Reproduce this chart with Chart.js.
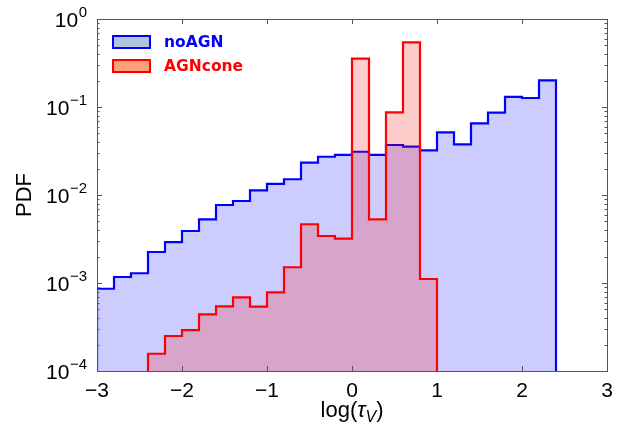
<!DOCTYPE html>
<html><head><meta charset="utf-8">
<script src="https://cdn.jsdelivr.net/npm/chart.js@4/dist/chart.umd.min.js"></script>
<style>html,body{margin:0;padding:0;background:#fff;}#wrap{width:638px;height:427px;}</style>
</head><body><div id="wrap"><canvas id="c" width="638" height="427"></canvas></div>
<script>
// ---- data ----
const noAGNEdges = [-3.0,-2.8,-2.6,-2.4,-2.2,-2.0,-1.8,-1.6,-1.4,-1.2,-1.0,-0.8,-0.6,-0.4,-0.2,0.0,0.2,0.4,0.6,0.8,1.0,1.2,1.4,1.6,1.8,2.0,2.2,2.4];
const noAGN = [8.6e-4,1.17e-3,1.29e-3,2.25e-3,2.92e-3,3.90e-3,5.29e-3,7.70e-3,8.55e-3,1.13e-2,1.34e-2,1.51e-2,2.33e-2,2.72e-2,2.85e-2,3.10e-2,2.85e-2,3.70e-2,3.54e-2,3.22e-2,5.16e-2,3.77e-2,6.53e-2,8.62e-2,0.130,0.1265,0.201];
const agnConeEdges = [-2.4,-2.2,-2.0,-1.8,-1.6,-1.4,-1.2,-1.0,-0.8,-0.6,-0.4,-0.2,0.0,0.2,0.4,0.6,0.8,1.0];
const agnCone = [1.57e-4,2.50e-4,2.92e-4,4.41e-4,5.43e-4,6.87e-4,5.38e-4,7.84e-4,1.51e-3,4.65e-3,3.42e-3,3.19e-3,0.354,5.29e-3,0.087,0.543,1.11e-3];
const seriesNames = ['noAGN','AGNcone'];
const xTicks = [-3,-2,-1,0,1,2,3];
const xTickLabels = ['\u22123','\u22122','\u22121','0','1','2','3'];
const yTicks = [1e-4,1e-3,1e-2,1e-1,1];
const yTickBase = '10';
const yTickExponents = ['\u22124','\u22123','\u22122','\u22121','0'];
const yTitle = 'PDF';

// ---- helpers ----
const FLOOR = 1e-6;
function stepPoints(edges, vals){
  const pts=[{x:edges[0],y:FLOOR}];
  vals.forEach((v,i)=>pts.push({x:edges[i],y:v}));
  pts.push({x:edges[edges.length-1],y:vals[vals.length-1]});
  pts.push({x:edges[edges.length-1],y:FLOOR});
  return pts;
}

const framePlugin = {
  id:'frame',
  afterDatasetsDraw(chart){
    const {ctx, chartArea:a, scales:{x,y}} = chart;
    ctx.save();
    ctx.strokeStyle='#555'; ctx.lineWidth=1;
    ctx.beginPath();
    xTicks.forEach(v=>{
      const px=Math.round(x.getPixelForValue(v))+0.5;
      ctx.moveTo(px,a.bottom); ctx.lineTo(px,a.bottom-5);
      ctx.moveTo(px,a.top); ctx.lineTo(px,a.top+5);
    });
    for(let e=-4;e<=0;e++){
      for(let k=1;k<=9;k++){
        const v=k*Math.pow(10,e); if(v>1.0001) break;
        const py=Math.round(y.getPixelForValue(v))+0.5;
        const len=k===1?5:2.5;
        ctx.moveTo(a.left,py); ctx.lineTo(a.left+len,py);
        ctx.moveTo(a.right,py); ctx.lineTo(a.right-len,py);
      }
    }
    ctx.stroke();
    ctx.strokeRect(Math.round(a.left)+0.5, Math.round(a.top)+0.5, Math.round(a.right-a.left), Math.round(a.bottom-a.top));
    ctx.restore();
  },
  afterDraw(chart){
    const {ctx, chartArea:a, scales:{x,y}} = chart;
    ctx.save();
    ctx.fillStyle='#000'; ctx.textBaseline='alphabetic'; ctx.textAlign='left';
    // y tick labels: 10 with superscript exponent
    const fb='21px "Liberation Sans"', fsup='15px "Liberation Sans"';
    yTicks.forEach((v,i)=>{
      const py=y.getPixelForValue(v);
      ctx.font=fsup; const ws=ctx.measureText(yTickExponents[i]).width;
      ctx.font=fb; const wb=ctx.measureText(yTickBase).width;
      const right=87;
      ctx.font=fb; ctx.fillText(yTickBase, right-ws-wb-0.5, py+7.5);
      ctx.font=fsup; ctx.fillText(yTickExponents[i], right-ws, py-2);
    });
    // x-axis title with subscript
    const cx = x.getPixelForValue(0);
    const base = 417;
    const f1 = '22px "Liberation Sans"', fi = 'italic 22px "Liberation Sans"', fs = 'italic 16px "Liberation Sans"';
    const parts = [['log(',f1,0],['\u03C4',fi,0],['V',fs,5],[')',f1,0]];
    let w=0; parts.forEach(p=>{ctx.font=p[1]; w+=ctx.measureText(p[0]).width;});
    let xx = cx - w/2;
    parts.forEach(p=>{ctx.font=p[1]; ctx.fillText(p[0],xx,base+p[2]); xx+=ctx.measureText(p[0]).width;});
    // legend
    const items=[
      {label:seriesNames[0], fill:'#b0c4de', stroke:'#0000ff', y:36},
      {label:seriesNames[1], fill:'#ffa07a', stroke:'#ff0000', y:60}
    ];
    items.forEach(it=>{
      ctx.fillStyle=it.fill; ctx.fillRect(113,it.y,37,12);
      ctx.strokeStyle=it.stroke; ctx.lineWidth=2; ctx.strokeRect(113,it.y,37,12);
      ctx.fillStyle=it.stroke; ctx.font='bold 15.5px "DejaVu Sans"'; ctx.textBaseline='alphabetic';
      ctx.fillText(it.label,164,it.y+10.5);
    });
    ctx.restore();
  }
};

new Chart(document.getElementById('c'),{
  type:'line',
  data:{datasets:[
    {label:seriesNames[0], data:stepPoints(noAGNEdges,noAGN), stepped:true, borderColor:'#0000ff', backgroundColor:'rgba(0,0,255,0.2)', borderWidth:2.2, fill:'start', pointRadius:0, order:2},
    {label:seriesNames[1], data:stepPoints(agnConeEdges,agnCone), stepped:true, borderColor:'#ff0000', backgroundColor:'rgba(255,0,0,0.2)', borderWidth:2.2, fill:'start', pointRadius:0, order:1}
  ]},
  options:{
    animation:false, responsive:false, devicePixelRatio:1,
    layout:{padding:{left:0,top:19,right:31,bottom:0}},
    plugins:{legend:{display:false}, tooltip:{enabled:false}},
    scales:{
      x:{type:'linear', min:-3, max:3,
        grid:{display:false, drawTicks:false}, border:{display:false},
        afterBuildTicks:s=>{s.ticks=xTicks.map(v=>({value:v}));},
        ticks:{autoSkip:false, maxRotation:0, padding:8, color:'#000', font:{family:'Liberation Sans', size:21},
          callback:(v)=>{const i=xTicks.indexOf(v); return i>=0?xTickLabels[i]:'';}},
        afterFit:s=>{s.height=56;}
      },
      y:{type:'logarithmic', min:1e-4, max:1,
        grid:{display:false, drawTicks:false}, border:{display:false},
        afterBuildTicks:s=>{s.ticks=yTicks.map(v=>({value:v}));},
        ticks:{display:false},
        title:{display:true, text:yTitle, color:'#000', font:{family:'Liberation Sans', size:22}, padding:{top:12,bottom:0}},
        afterFit:s=>{s.width=97;}
      }
    }
  },
  plugins:[framePlugin]
});
</script></body></html>
